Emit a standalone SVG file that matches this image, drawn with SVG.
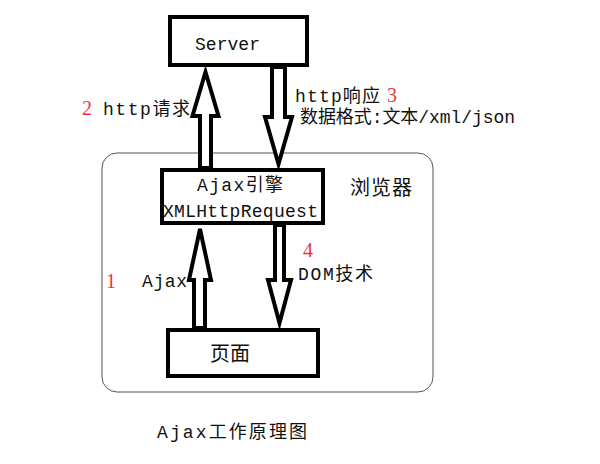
<svg xmlns="http://www.w3.org/2000/svg" width="600" height="464" viewBox="0 0 600 464">
<style>
.box{fill:#fff;stroke:#000;stroke-width:4}
.arr{fill:#fff;stroke:#000;stroke-width:4;stroke-linejoin:miter}
.t{font-family:"Liberation Mono","Noto Sans CJK SC",monospace;font-size:18px;fill:#111}
.n{font-family:"Liberation Serif",serif;font-size:20px;fill:#e8343a}
</style>
<rect x="0" y="0" width="600" height="464" fill="#fff"/>
<rect id="browser" x="102" y="153" width="331" height="239" rx="15" fill="none" stroke="#555" stroke-width="1"/>
<g id="connectors">
  <polygon class="arr" points="205.5,72 218.5,116 211,116 211,168 200,168 200,116 192.5,116"/>
  <polygon class="arr" points="272,67 285,67 285,117 292,117 278.5,164 265,117 272,117"/>
  <polygon class="arr" points="200,229 211,280 205,280 205,328 194,328 194,280 189,280"/>
  <polygon class="arr" points="275,225 284,225 284,280 291,280 279.5,323 268,280 275,280"/>
</g>
<g id="server">
  <rect class="box" x="170" y="17" width="137" height="48"/>
  <text class="t" x="195" y="50" textLength="65">Server</text>
</g>
<g id="ajax-engine">
  <rect class="box" x="162" y="170" width="161" height="53"/>
  <text class="t" x="197" y="191" textLength="86">Ajax引擎</text>
  <text class="t" x="163" y="217" textLength="155">XMLHttpRequest</text>
</g>
<g id="page">
  <rect class="box" x="168" y="330" width="150" height="46"/>
  <text class="t" x="210" y="361" style="font-size:20px" textLength="40">页面</text>
</g>
<g id="labels">
  <text class="n" x="82" y="115">2</text>
  <text class="t" x="103" y="115" textLength="87">http请求</text>
  <text class="t" x="295" y="102" textLength="85">http响应</text>
  <text class="n" x="387" y="102">3</text>
  <text class="t" x="300" y="123" textLength="215">数据格式:文本/xml/json</text>
  <text class="t" x="350" y="195" style="font-size:20px" textLength="62">浏览器</text>
  <text class="n" x="106" y="288">1</text>
  <text class="t" x="142" y="287" textLength="45">Ajax</text>
  <text class="n" x="303" y="257">4</text>
  <text class="t" x="298" y="280" textLength="75">DOM技术</text>
  <text class="t" x="157" y="438" textLength="150">Ajax工作原理图</text>
</g>
</svg>
